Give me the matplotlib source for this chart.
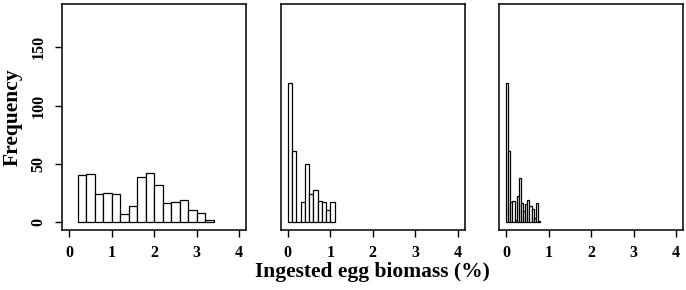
import matplotlib
matplotlib.use("Agg")
import matplotlib.pyplot as plt
import numpy as np

# ---- data ----
counts_a = [40, 41, 24, 25, 24, 7, 14, 39, 42, 32, 16, 17, 19, 10, 8, 2]
start_a, width_a = 0.2, 0.2
counts_b = [119, 61, 0, 17, 50, 24, 27, 18, 17, 10, 17]
start_b, width_b = 0.0, 0.1
counts_c = [119, 61, 17, 18, 2, 22, 38, 16, 9, 15, 19, 14, 11, 3, 16, 1]
start_c, width_c = 0.0, 0.05

x_ticks = [0, 1, 2, 3, 4]
y_ticks = [0, 50, 100, 150]
xlabel = "Ingested egg biomass (%)"
ylabel = "Frequency"

plt.rcParams['font.family'] = ['Liberation Serif', 'DejaVu Serif']
plt.rcParams['font.weight'] = 'bold'

fig = plt.figure(figsize=(6.86, 2.90), dpi=100)
W, H = 686.0, 290.0
lefts = [62.5, 281.0, 499.3]
pw = 183.5
top, bottom = 4.0, 230.3

panels = [(counts_a, start_a, width_a), (counts_b, start_b, width_b), (counts_c, start_c, width_c)]
axes = []
for i, (cnts, st, wd) in enumerate(panels):
    ax = fig.add_axes([lefts[i] / W, 1 - bottom / H, pw / W, (bottom - top) / H])
    x = st + wd * np.arange(len(cnts))
    ax.bar(x, cnts, width=wd, align='edge', color='white', edgecolor='black', linewidth=0.9)
    ax.set_xlim(-0.16, 4.16)
    ax.set_ylim(-7.2, 187.2)
    ax.set_xticks(x_ticks)
    ax.set_xticklabels([str(t) for t in x_ticks], fontsize=11.5, fontweight='bold')
    ax.tick_params(axis='x', length=5, width=1, pad=5.5)
    if i == 0:
        ax.set_yticks(y_ticks)
        ax.set_yticklabels([str(t) for t in y_ticks], fontsize=11.5, fontweight='bold',
                           rotation=90, va='center')
        ax.tick_params(axis='y', length=5, width=1, pad=6.5)
        ax.set_ylabel(ylabel, fontsize=15.5, fontweight='bold', labelpad=6)
    else:
        ax.set_yticks([])
    for s in ax.spines.values():
        s.set_linewidth(1.1)
    axes.append(ax)

axes[1].set_xlabel(xlabel, fontsize=15.5, fontweight='bold', labelpad=1)

fig.savefig("out.png", dpi=100)
